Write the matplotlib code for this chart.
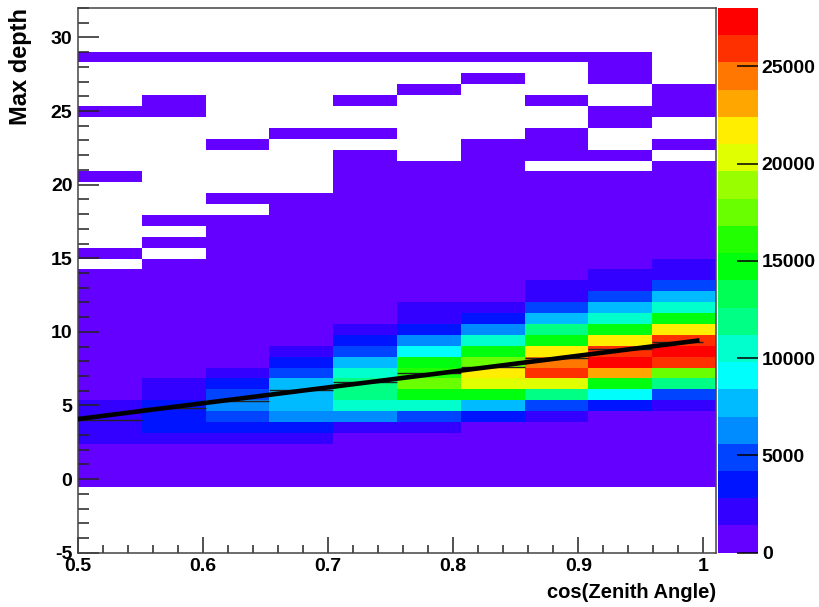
import colorsys
import matplotlib
matplotlib.use("Agg")
import matplotlib.pyplot as plt
import numpy as np
from matplotlib.colors import ListedColormap, BoundaryNorm
from matplotlib.ticker import MultipleLocator, FuncFormatter

plt.rcParams['font.family'] = ['Liberation Sans', 'DejaVu Sans']
plt.rcParams['font.weight'] = 'bold'
plt.rcParams['axes.unicode_minus'] = False

# histogram binning: 10 bins in cos(zenith), 50 bins in max depth
x_range = (0.5, 1.01)
n_xbins = 10
y_range = (-5.0, 32.0)
n_ybins = 50
first_filled_ybin = 6   # columns below list bins 6..45

# bin contents per cos(zenith) column, depth bins 6..45 (bottom to top)
col_050 = [400, 500, 700, 1000, 1900, 2300, 2500, 2000, 1200, 800,
           500, 300, 200, 120, 80, 50, 30, 20, 10, 5,
           0, 2, 0, 0, 0, 0, 0, 0, 1, 0,
           0, 0, 0, 0, 1, 0, 0, 0, 0, 1]
col_055 = [300, 400, 600, 1000, 2200, 3400, 3900, 3600, 2600, 1700,
           1100, 700, 450, 300, 180, 110, 70, 40, 25, 12,
           6, 0, 2, 0, 1, 0, 0, 0, 0, 0,
           0, 0, 0, 0, 1, 1, 0, 0, 0, 1]
col_060 = [300, 400, 600, 1100, 2400, 3500, 4800, 6100, 5200, 3700,
           2100, 1200, 800, 500, 320, 200, 130, 80, 50, 30,
           18, 10, 6, 3, 2, 0, 1, 0, 0, 0,
           0, 1, 0, 0, 0, 0, 0, 0, 0, 1]
col_065 = [300, 400, 700, 1200, 2500, 3800, 6300, 7600, 7900, 7300,
           5000, 3300, 1900, 1100, 700, 450, 280, 170, 100, 60,
           40, 25, 14, 8, 5, 3, 2, 0, 0, 0,
           0, 0, 1, 0, 0, 0, 0, 0, 0, 1]
col_070 = [300, 400, 600, 900, 1300, 2400, 6200, 10500, 11800, 12000,
           10300, 7500, 4900, 3400, 2000, 1200, 800, 500, 320, 200,
           130, 80, 50, 30, 18, 10, 6, 4, 3, 2,
           1, 0, 1, 0, 0, 1, 0, 0, 0, 1]
col_075 = [300, 400, 600, 900, 1300, 2300, 4700, 10600, 14700, 17500,
           16100, 14400, 9300, 6200, 3500, 2400, 1600, 1000, 650, 400,
           250, 150, 90, 55, 35, 20, 12, 7, 4, 2,
           0, 0, 0, 0, 0, 0, 1, 0, 0, 1]
col_080 = [300, 400, 550, 750, 1000, 1300, 3500, 7700, 14600, 20300,
           21800, 17400, 14500, 10400, 6400, 3400, 2000, 1100, 700, 450,
           280, 170, 100, 60, 40, 25, 15, 9, 5, 3,
           2, 1, 0, 0, 0, 0, 0, 1, 0, 1]
col_085 = [300, 400, 550, 750, 1000, 1300, 2100, 4800, 12000, 20200,
           25900, 24500, 21600, 14600, 11900, 7600, 4600, 2300, 1600, 1000,
           600, 350, 200, 120, 70, 40, 20, 10, 5, 0,
           2, 1, 1, 0, 0, 1, 0, 0, 0, 1]
col_090 = [300, 400, 500, 700, 900, 1100, 1300, 3400, 9200, 14500,
           23100, 27300, 25800, 21700, 14700, 10500, 7400, 4700, 2200, 1500,
           900, 550, 320, 190, 110, 60, 30, 15, 8, 0,
           2, 0, 0, 1, 1, 0, 0, 1, 1, 1]
col_095 = [200, 300, 400, 600, 800, 1000, 1300, 2200, 4800, 12100,
           17600, 25700, 27300, 25600, 21500, 14600, 10300, 7600, 4600, 2400,
           1500, 900, 550, 320, 180, 100, 55, 30, 15, 6,
           0, 2, 0, 0, 1, 1, 1, 0, 0, 0]
columns = [col_050, col_055, col_060, col_065, col_070,
           col_075, col_080, col_085, col_090, col_095]

# profile means per x bin and the straight-line fit through them
prof_mean = [4.02, 4.80, 5.33, 6.05, 6.62, 7.23, 7.64, 8.20, 8.82, 9.33]
fit_p0, fit_p1 = -1.295, 10.75
fit_range = (0.5, 0.995)

z_max = 28000
n_contours = 20
cbar_ticks = [0, 5000, 10000, 15000, 20000, 25000]

# ROOT "pretty palette" (50 HLS colours), sampled for 20 contours
pretty = [colorsys.hls_to_rgb((280 - (i + 1) * 5.6) / 360.0, 0.5, 1.0) for i in range(50)]
pal = [pretty[int((j + 0.99) * 50 / n_contours)] for j in range(n_contours)]
cmap = ListedColormap(pal)
levels = np.linspace(0, z_max, n_contours + 1)
norm = BoundaryNorm(levels, n_contours)

xedges = np.linspace(x_range[0], x_range[1], n_xbins + 1)
yedges = np.linspace(y_range[0], y_range[1], n_ybins + 1)
grid = np.zeros((n_ybins, n_xbins))
for i, col in enumerate(columns):
    grid[first_filled_ybin:first_filled_ybin + len(col), i] = col
grid = np.ma.masked_equal(grid, 0)

fig = plt.figure(figsize=(8.19, 6.07), dpi=100)
ax = fig.add_axes([0.09524, 0.08946, 0.77900, 0.89736])
mesh = ax.pcolormesh(xedges, yedges, grid, cmap=cmap, norm=norm,
                     edgecolors='none', antialiased=False)

# profile markers and fit line
for i, m in enumerate(prof_mean):
    ax.hlines(m, xedges[i], min(xedges[i + 1], 1.0), colors='#222222', lw=1.0, zorder=3)
fx = np.array(fit_range)
ax.plot(fx, fit_p0 + fit_p1 * fx, color='black', lw=3.3, zorder=4)

ax.set_xlim(x_range)
ax.set_ylim(y_range)
ax.xaxis.set_major_locator(MultipleLocator(0.1))
ax.xaxis.set_minor_locator(MultipleLocator(0.02))
ax.yaxis.set_major_locator(MultipleLocator(5))
ax.yaxis.set_minor_locator(MultipleLocator(1))
ax.xaxis.set_major_formatter(FuncFormatter(lambda v, p: '%g' % round(v, 3)))
ax.tick_params(axis='x', which='major', direction='in', length=11.5, width=1.1,
               color='#222222', labelsize=14, pad=4, top=False)
ax.tick_params(axis='x', which='minor', direction='in', length=5.8, width=1.1,
               color='#222222', top=False)
ax.tick_params(axis='y', which='major', direction='in', length=15, width=1.1,
               color='#222222', labelsize=14, pad=4, right=False)
ax.tick_params(axis='y', which='minor', direction='in', length=7.7, width=1.1,
               color='#222222', right=False)
for s in ax.spines.values():
    s.set_color('#444444')
    s.set_linewidth(1.1)

ax.set_xlabel('cos(Zenith Angle)', loc='right', fontsize=14.5, fontweight='bold')
ax.xaxis.set_label_coords(1.0, -0.055)
ax.set_ylabel('Max depth', loc='top', fontsize=17, fontweight='bold')
ax.yaxis.set_label_coords(-0.072, 1.0)

cax = fig.add_axes([0.87668, 0.08946, 0.04847, 0.89736])
cb = fig.colorbar(mesh, cax=cax, ticks=cbar_ticks, spacing='proportional')
cb.outline.set_visible(False)
cb.minorticks_off()
cax.tick_params(direction='in', length=15, width=1.1, color='black',
                labelsize=14, pad=3)
cax.set_yticklabels([str(t) for t in cbar_ticks])

fig.savefig('out.png', dpi=100)
